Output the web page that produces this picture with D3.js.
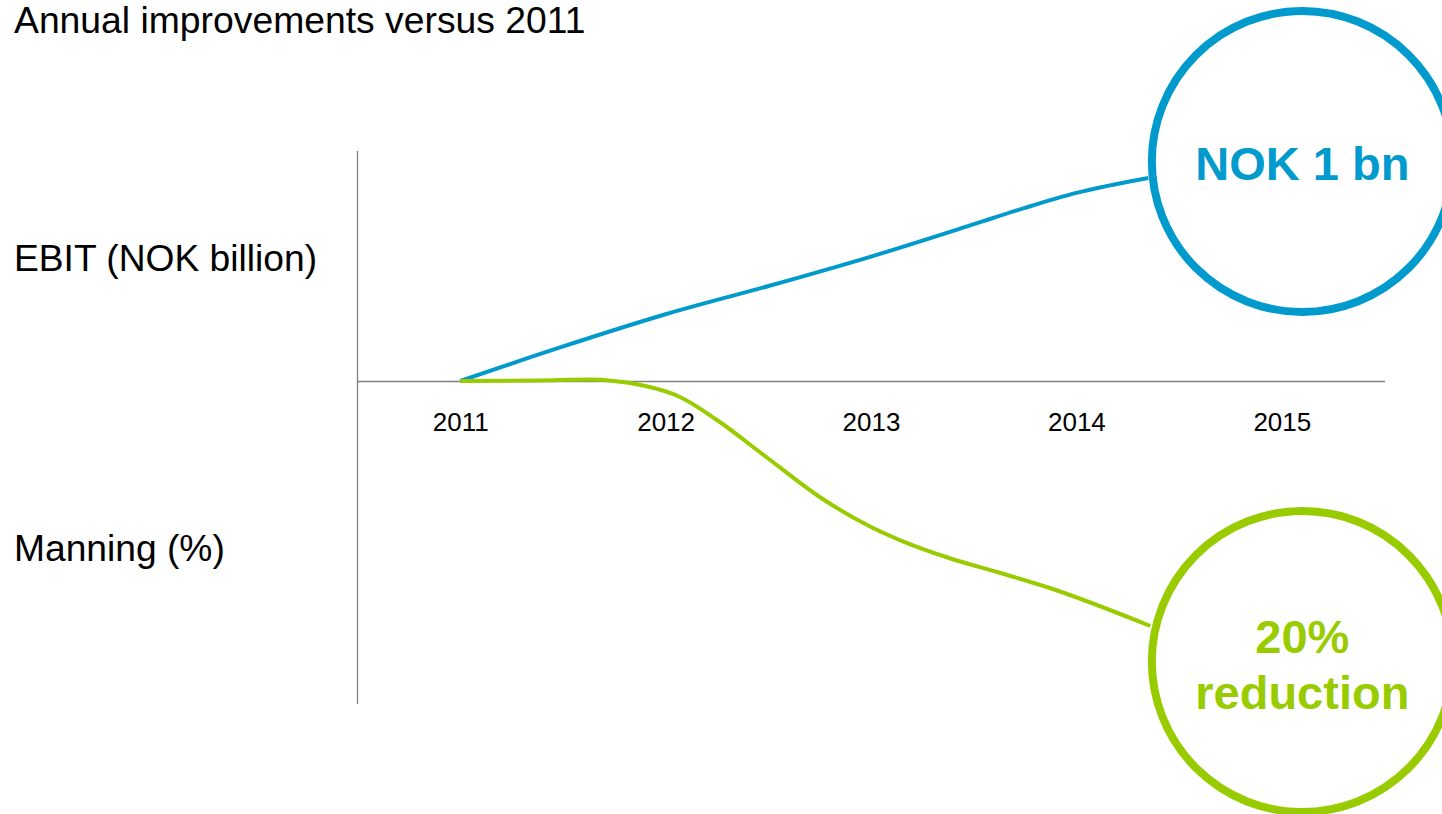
<!DOCTYPE html>
<html>
<head>
<meta charset="utf-8">
<script src="https://cdn.jsdelivr.net/npm/d3@7"></script>
<style>
  html, body { margin: 0; padding: 0; background: #ffffff; }
  svg { display: block; }
  text { font-family: "Liberation Sans", Arial, Helvetica, sans-serif; }
</style>
</head>
<body>
<svg id="chart" width="1442" height="814"></svg>
<script>
// ---- data ----
const years = [2011, 2012, 2013, 2014, 2015];

// EBIT improvement, NOK billion, by (fractional) year
const ebitYears  = [2011.00, 2011.49, 2012.00, 2012.51, 2013.00, 2013.51, 2013.75, 2014.00, 2014.35];
const ebitValues = [0.000,   0.154,   0.304,   0.435,   0.567,   0.717,   0.789,   0.857,   0.925];

// Manning change, %, by (fractional) year
const manningYears  = [2011.00, 2011.39, 2011.63, 2011.75, 2011.88, 2012.07, 2012.25, 2012.49, 2012.75, 2013.00, 2013.14, 2013.38, 2013.63, 2013.87, 2014.36];
const manningValues = [0.00,    0.04,    0.10,    0.00,    -0.29,   -1.14,   -2.78,   -5.42,   -8.27,   -10.41,  -11.34,  -12.62,  -13.69,  -14.76,  -17.47];

// Targets shown in the callout circles
const ebitTarget = 1;        // NOK 1 bn
const manningTarget = -20;   // 20% reduction
const targetYear = 2015.1;

const titleText = "Annual improvements versus 2011";
const ebitLabel = "EBIT (NOK billion)";
const manningLabel = "Manning (%)";
const ebitCallout = ["NOK 1 bn"];
const manningCallout = ["20%", "reduction"];

// ---- layout ----
const blue = "#009acd";
const green = "#99cc00";
const axisColor = "#808080";

const svg = d3.select("#chart");

const x = d3.scaleLinear().domain([2010.5, 2015.5]).range([357.5, 1384.5]);
const yEbit = d3.scaleLinear().domain([0, 1]).range([381, 161.5]);
const yMan = d3.scaleLinear().domain([0, -20]).range([381, 661.5]);

// title and side labels
svg.append("text").attr("x", 14).attr("y", 33)
  .attr("font-size", 37.3).attr("fill", "#000").text(titleText);
svg.append("text").attr("x", 14).attr("y", 271)
  .attr("font-size", 37.2).attr("fill", "#000").text(ebitLabel);
svg.append("text").attr("x", 14).attr("y", 561)
  .attr("font-size", 37.2).attr("fill", "#000").text(manningLabel);

// vertical axis line
svg.append("line")
  .attr("x1", x(2010.5)).attr("x2", x(2010.5))
  .attr("y1", 151).attr("y2", 704)
  .attr("stroke", axisColor).attr("stroke-width", 1.3);

// horizontal year axis through zero
const xAxis = d3.axisBottom(x).tickValues(years).tickFormat(d3.format("d"))
  .tickSize(0).tickPadding(50).tickSizeOuter(0);
const gx = svg.append("g").attr("transform", `translate(0,${yEbit(0)})`).call(xAxis);
gx.select(".domain").attr("stroke", axisColor).attr("stroke-width", 1.3);
gx.selectAll(".tick text")
  .attr("font-family", "'Liberation Sans', Arial, sans-serif")
  .attr("font-size", 26).attr("fill", "#000").attr("dy", "0");

// lines
const ebitData = ebitYears.map((yr, i) => ({ yr, v: ebitValues[i] }));
const manData = manningYears.map((yr, i) => ({ yr, v: manningValues[i] }));

svg.append("path").datum(ebitData)
  .attr("fill", "none").attr("stroke", blue).attr("stroke-width", 4)
  .attr("stroke-linejoin", "round")
  .attr("d", d3.line().x(d => x(d.yr)).y(d => yEbit(d.v)).curve(d3.curveMonotoneX));

svg.append("path").datum(manData)
  .attr("fill", "none").attr("stroke", green).attr("stroke-width", 4)
  .attr("stroke-linejoin", "round")
  .attr("d", d3.line().x(d => x(d.yr)).y(d => yMan(d.v)).curve(d3.curveMonotoneX));

// callout circles
function callout(cx, cy, color, lines, firstBaseline) {
  svg.append("circle").attr("cx", cx).attr("cy", cy).attr("r", 150.5)
    .attr("fill", "#fff").attr("stroke", color).attr("stroke-width", 8);
  lines.forEach((t, i) => {
    svg.append("text").attr("x", cx).attr("y", firstBaseline + i * 56)
      .attr("text-anchor", "middle").attr("font-size", 47).attr("font-weight", "bold")
      .attr("fill", color).text(t);
  });
}
callout(x(targetYear), yEbit(ebitTarget), blue, ebitCallout, yEbit(ebitTarget) + 18.5);
callout(x(targetYear), yMan(manningTarget), green, manningCallout, yMan(manningTarget) - 8.5);
</script>
</body>
</html>
